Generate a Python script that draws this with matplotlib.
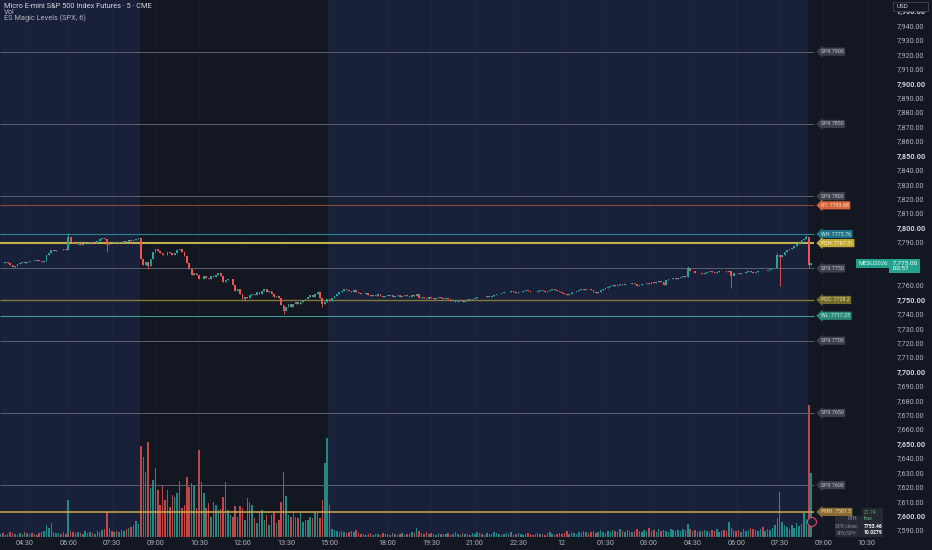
import matplotlib
matplotlib.use("Agg")
import matplotlib.pyplot as plt
from matplotlib.transforms import blended_transform_factory
from matplotlib.patches import Circle, Rectangle
import numpy as np

plt.rcParams['font.family'] = ['Roboto', 'DejaVu Sans']

# ---------------- data (5-minute bars, 03:40 day 1 -> 08:35 day 2, CT) ----------------
first_open = 7775.0
closes = [
    # 03:40 - 04:35
    7775.5, 7775.0, 7776.0, 7775.25, 7774.0, 7772.5, 7773.0, 7774.5, 7775.0, 7776.0, 7775.5, 7776.25,
    # 04:40 - 05:35
    7777.0, 7776.5, 7777.5, 7777.0, 7776.75, 7776.0, 7777.0, 7781.0, 7782.5, 7784.0, 7783.5, 7784.25,
    # 05:40 - 06:35
    7784.5, 7784.0, 7785.0, 7784.5, 7793.5, 7790.0, 7789.0, 7788.5, 7789.0, 7788.0, 7788.5, 7789.0,
    # 06:40 - 07:35
    7789.5, 7790.0, 7789.0, 7789.5, 7790.5, 7792.0, 7792.5, 7792.0, 7788.0, 7789.5, 7789.0, 7790.0,
    # 07:40 - 08:25
    7789.5, 7790.0, 7789.0, 7790.5, 7790.0, 7791.0, 7790.5, 7791.5, 7792.0, 7792.5,
    # RTH 08:30 - 15:00
    7778, 7774, 7776, 7773, 7778, 7783, 7785, 7783.5, 7782.5, 7781, 7780.5, 7783,
    7782, 7781, 7782.5, 7784, 7785, 7783, 7780, 7775, 7771, 7767, 7768.5, 7767,
    7764.5, 7764, 7766, 7765, 7764.5, 7766, 7765.5, 7767, 7768.5, 7766, 7762, 7763.5,
    7764, 7764.5, 7760, 7756, 7757, 7754, 7750.5, 7752, 7751, 7753, 7754, 7753,
    7755, 7754, 7756, 7757.5, 7755.5, 7756, 7754, 7752, 7752.5, 7751, 7746, 7742,
    7745, 7746.5, 7745, 7747, 7748, 7746.5, 7748.5, 7749.5, 7750.5, 7751.5, 7753, 7752,
    7753.5, 7755, 7751, 7746.5, 7748.5, 7750, 7749,
    # 15:05 - 15:55
    7751, 7752.5, 7754, 7755.5, 7756, 7757, 7756.5, 7756, 7755.5, 7756.5, 7755.5,
    # 17:00 onward (overnight)
    7754.5, 7754, 7753.5, 7754.5, 7753, 7752.5, 7753, 7752.5, 7753.5, 7752.5, 7752, 7752.5,
    7752.5, 7753, 7752, 7752.5, 7753, 7752, 7752.5, 7753, 7752.5, 7752, 7753, 7752.5,
    7753.5, 7751, 7751.5, 7751, 7750.5, 7751.5, 7751, 7750.5, 7751, 7751.5, 7751, 7750.5,
    7751, 7750, 7749, 7749.5, 7748.5, 7749, 7749.5, 7748.5, 7749, 7750, 7749.5, 7750,
    7751, 7751.5, 7752, 7751.5, 7752, 7752.5, 7752, 7752.5, 7753, 7753.5, 7754, 7754.5,
    7755, 7755.5, 7755, 7756, 7755.5, 7754.5, 7755, 7755.5, 7756, 7756.5, 7756, 7755.5,
    7755, 7755.5, 7756, 7756.5, 7756, 7755.5, 7756, 7756.5, 7757, 7756.5, 7756, 7755,
    7754.5, 7754, 7753, 7754, 7755, 7755.5, 7756, 7756.5, 7757, 7756.5, 7757.5, 7757,
    7756.5, 7755.5, 7754.5, 7755.5, 7756.5, 7757.5, 7758, 7758.5, 7759.5, 7760, 7759.5, 7760,
    7760.5, 7760, 7761, 7760.5, 7761, 7761.5, 7760.5, 7759.5, 7760, 7760.5, 7761, 7761.5,
    7761, 7762, 7761.5, 7762, 7762.5, 7762, 7760, 7763.5, 7764, 7764.5, 7765, 7764.5,
    7765, 7765.5, 7766, 7765.5, 7771.5, 7769.5, 7770, 7768.5, 7768, 7768.5, 7767.5, 7768.5,
    7769, 7769.5, 7769, 7768.5, 7769, 7769.5, 7770, 7769.5, 7769, 7769.5, 7766.5, 7768.5,
    7768, 7767.5, 7768, 7768.5, 7769, 7769.5, 7769, 7768.5, 7769, 7769.5, 7770, 7769.5,
    7770, 7770.5, 7771, 7771.5, 7772, 7781, 7779.5,
    7780.5, 7783, 7784, 7785, 7786, 7787, 7788.5, 7789.5, 7791, 7792, 7793.5,
    # RTH 08:30, 08:35
    7774, 7775,
]
wick_high = {28: 7796, 131: 7756, 284: 7773, 321: 7782, 333: 7795}
wick_low = {44: 7783, 61: 7771, 101: 7749, 117: 7740, 133: 7745, 302: 7758, 322: 7759, 334: 7772}

volume = [
    3, 4, 2, 3, 5, 4, 3, 2, 4, 3, 5, 4,
    3, 4, 3, 2, 4, 5, 6, 12, 9, 14, 5, 4,
    4, 3, 5, 3, 37, 6, 5, 4, 5, 4, 3, 6,
    4, 5, 4, 3, 6, 5, 7, 8, 25, 9, 6, 5,
    6, 5, 7, 6, 8, 9, 10, 12, 16, 13,
    91, 80, 65, 95, 49, 57, 69, 47, 32, 52, 37, 47,
    30, 42, 40, 44, 56, 29, 32, 60, 50, 54, 52, 29,
    87, 55, 44, 29, 34, 20, 35, 32, 27, 28, 40, 55,
    27, 22, 20, 31, 20, 31, 29, 17, 39, 35, 32, 19,
    14, 25, 27, 17, 22, 12, 22, 25, 14, 17, 35, 65,
    41, 22, 20, 25, 20, 19, 24, 15, 17, 17, 20, 19,
    24, 24, 19, 37, 74, 99, 32,
    8, 7, 6, 5, 6, 5, 4, 5, 6, 5, 7,
    4, 3, 3, 2, 3, 4, 2, 3, 3, 2, 4, 3,
    3, 2, 4, 3, 2, 3, 4, 2, 3, 3, 5, 4,
    9, 6, 4, 3, 5, 3, 4, 3, 2, 4, 3, 3,
    3, 4, 2, 3, 5, 3, 2, 4, 3, 3, 2, 4,
    3, 5, 4, 3, 2, 4, 3, 3, 5, 4, 3, 2,
    3, 4, 3, 5, 2, 3, 4, 3, 2, 3, 4, 3,
    2, 3, 4, 3, 3, 2, 4, 5, 3, 2, 3, 4,
    3, 4, 6, 3, 5, 4, 3, 5, 4, 6, 5, 4,
    5, 6, 4, 5, 7, 5, 4, 6, 5, 7, 6, 5,
    8, 6, 5, 7, 6, 5, 6, 8, 6, 5, 7, 6,
    9, 6, 7, 5, 8, 6, 7, 6, 5, 8, 7, 6,
    7, 6, 8, 7, 13, 8, 6, 7, 5, 6, 6, 7,
    6, 5, 7, 6, 8, 5, 6, 7, 6, 15, 9, 7,
    6, 7, 5, 8, 6, 7, 9, 8, 7, 6, 8, 10,
    6, 8, 7, 9, 12, 19, 45,
    15, 12, 10, 8, 12, 9, 14, 11, 13, 24, 18,
    132, 64,
]

tick_pos = [10, 28, 46, 64, 82, 100, 118, 136, 160, 178, 196, 214, 232, 250, 268, 286, 304, 322, 340, 358]
tick_lbl = ["04:30", "06:00", "07:30", "09:00", "10:30", "12:00", "13:30", "15:00", "18:00", "19:30",
            "21:00", "22:30", "12", "01:30", "03:00", "04:30", "06:00", "07:30", "09:00", "10:30"]
rth_start = [58, 334]
rth_end = [136, None]

spx_levels = [7900, 7850, 7800, 7750, 7700, 7650, 7600]
key_names = ["R1", "WH", "PDH", "PDC", "WL", "PMH"]
key_values = [7793.68, 7773.76, 7767.51, 7728.2, 7717.25, 7581.5]
spx_close = 7753.46
last_price = 7775.00
spread = "21.74"
spx_spy = "10.0279"
symbol = "MESU2026"
countdown = "00:57"

assert len(closes) == len(volume) == 336, (len(closes), len(volume))

# ---------------- styling ----------------
W, H, DPI = 932, 550, 100
NAVY = '#19213a'
DARK = '#131722'
TEAL = '#26a69a'
RED = '#ef5350'
AXTXT = '#b2b5be'

key_style = {
    "R1":  dict(line='#d9683d', lw=0.8, alpha=0.6, fc='#d4643a', tc='#fde3d6'),
    "WH":  dict(line='#2a8da0', lw=0.8, alpha=0.9, fc='#1f7285', tc='#d5f0f5'),
    "PDH": dict(line='#cdb94f', lw=1.5, alpha=0.95, fc='#c2aa36', tc='#fbf3c8'),
    "PDC": dict(line='#8a7e3a', lw=1.0, alpha=0.95, fc='#756c2c', tc='#e8e0a8'),
    "WL":  dict(line='#45a8a0', lw=0.8, alpha=0.9, fc='#2b8a78', tc='#d8f3ea'),
    "PMH": dict(line='#c8a24a', lw=1.3, alpha=0.9, fc='#8a6a30', tc='#f2dcaa'),
}

fig = plt.figure(figsize=(W / DPI, H / DPI), dpi=DPI, facecolor=DARK)
rect = [0, 13 / H, 888 / W, 537 / H]

# background + volume axes
bg = fig.add_axes(rect)
bg.set_facecolor(NAVY)
n = len(closes)
x = np.arange(n)
x0 = -0.2
x1 = x0 + 888 / 2.42
bg.set_xlim(x0, x1)
for s, e in zip(rth_start, rth_end):
    bg.axvspan(s - 0.5, (e - 0.5) if e is not None else x1, color=DARK, lw=0, zorder=0)

c = np.array(closes, dtype=float)
o = np.r_[first_open, c[:-1]]
up = c >= o
cols = np.where(up, TEAL, RED)

bg.bar(x, volume, width=0.62, color=cols, alpha=0.8, lw=0, zorder=2)
bg.set_ylim(0, 537)
bg.set_yticks([])
bg.set_xticks(tick_pos, tick_lbl)
bg.tick_params(axis='x', length=0, pad=2.5, labelsize=5.2, labelcolor=AXTXT)
for xt in tick_pos:
    bg.axvline(xt, color='#ffffff', alpha=0.025, lw=0.6, zorder=1)
for sp in bg.spines.values():
    sp.set_visible(False)

# price axes
pax = fig.add_axes(rect, sharex=bg)
pax.patch.set_visible(False)
pax.set_ylim(7585.13, 7957.81)
for sp in pax.spines.values():
    sp.set_visible(False)
pax.tick_params(axis='x', length=0, labelbottom=False)
yt = np.arange(7590, 7951, 10)
pax.yaxis.tick_right()
pax.set_yticks(yt, [f"{v:,.2f}" for v in yt])
pax.tick_params(axis='y', length=0, pad=6.5, labelsize=5.2, labelcolor=AXTXT)
for lab, v in zip(pax.get_yticklabels(), yt):
    if v % 50 == 0:
        lab.set_fontweight('bold')
        lab.set_color('#d1d4dc')
    if abs(v - last_price) < 6:   # hidden under the last-price tag
        lab.set_visible(False)

# candles
hi = np.maximum(o, c)
lo = np.minimum(o, c)
for i, v in wick_high.items():
    hi[i] = v
for i, v in wick_low.items():
    lo[i] = v
pax.vlines(x, lo, hi, colors=cols, lw=0.6, zorder=4)
body_h = np.maximum(np.abs(c - o), 0.4)
pax.bar(x, body_h, bottom=np.minimum(o, c), width=0.7, color=cols, lw=0, zorder=5)

# level lines + tags
ratio = last_price / spx_close
line_end = 336
tag_x = 339
for lvl in spx_levels:
    p = lvl * ratio
    pax.hlines(p, x0, line_end, colors='#5d6170', lw=0.7, zorder=3)
    pax.text(tag_x, p, f"SPX {lvl}", fontsize=3.8, color='#c9ccd4', va='center', ha='left', zorder=8,
             bbox=dict(boxstyle='larrow,pad=0.3', fc='#3d414c', ec='none'))
for name, val in zip(key_names, key_values):
    st = key_style[name]
    p = val * ratio
    pax.hlines(p, x0, line_end, colors=st['line'], lw=st['lw'], alpha=st['alpha'], zorder=3)
    pax.text(tag_x, p, f"{name}: {val:g}", fontsize=3.8, color=st['tc'], va='center', ha='left', zorder=9,
             bbox=dict(boxstyle='larrow,pad=0.3', fc=st['fc'], ec='none'))

# symbol + price tags
btr = blended_transform_factory(pax.transAxes, pax.transData)
pax.text(0.9995, last_price, f"{symbol}", transform=btr, fontsize=4.3, color='#e8fff9', ha='right',
         va='center', zorder=10, clip_on=False,
         bbox=dict(boxstyle='square,pad=0.3', fc='#1f9e8a', ec='none'))
pax.text(1.003, last_price - 1.5, f" {last_price:,.2f} \n {countdown}", transform=btr, fontsize=4.6,
         color='#ffffff', ha='left', va='center', zorder=10, clip_on=False, linespacing=1.05,
         bbox=dict(boxstyle='square,pad=0.3', fc='#22a28f', ec='none'))

# legend text top-left
fig.text(4 / W, 1 - 6 / H, "Micro E-mini S&P 500 Index Futures · 5 · CME", fontsize=5.3, color='#d1d4dc', va='center')
fig.text(4 / W, 1 - 12 / H, "Vol", fontsize=5.3, color='#b2b5be', va='center')
fig.text(4 / W, 1 - 18 / H, "ES Magic Levels (SPX, 6)", fontsize=5.3, color='#b2b5be', va='center')

# USD box
fig.add_artist(Rectangle((893 / W, 1 - 11 / H), 35 / W, 9 / H, transform=fig.transFigure,
                         fc=DARK, ec='#434651', lw=0.6, zorder=20))
fig.text(897 / W, 1 - 6.5 / H, "USD", fontsize=4.6, color='#d1d4dc', va='center', zorder=21)

# info table bottom right (row 1 left cell is the PMH level tag)
fig.add_artist(Rectangle((862 / W, 1 - 516 / H), 21 / W, 8 / H, transform=fig.transFigure,
                         fc='#252934', ec='none', zorder=6))
fig.add_artist(Rectangle((835 / W, 1 - 537 / H), 48 / W, 21 / H, transform=fig.transFigure,
                         fc='#252934', ec='none', zorder=6))
rows_y = [512, 519, 526, 533]
row_lbl = ["", "RTH:", "SPX close:", "SPX/SPY:"]
row_val = [spread, "true", f"{spx_close:.2f}", spx_spy]
row_col = ['#4caf50', '#5fae7a', '#ffffff', '#ffffff']
for yy, lb, vv, cc in zip(rows_y, row_lbl, row_val, row_col):
    if lb:
        fig.text(858 / W, 1 - yy / H, lb, fontsize=3.5, color='#8e92a0', ha='right', va='center', zorder=7)
    fig.text(864 / W, 1 - yy / H, vv, fontsize=3.6, color=cc, ha='left', va='center', zorder=7,
             fontweight='bold' if cc == '#ffffff' else 'normal')

# replay icon
fig.add_artist(Circle((8.12, 0.28), 0.045, transform=fig.dpi_scale_trans, fc='#1b1f2b', ec='#e0407a',
                      lw=0.8, zorder=12))

fig.savefig("out.png", dpi=DPI, facecolor=DARK)
